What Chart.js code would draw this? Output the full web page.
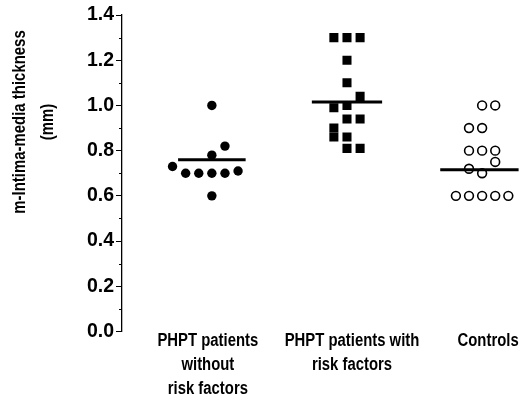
<!DOCTYPE html>
<html>
<head>
<meta charset="utf-8">
<script src="https://cdn.jsdelivr.net/npm/chart.js@4.4.1/dist/chart.umd.min.js"></script>
<style>
  html, body { margin: 0; padding: 0; background: #fff; }
  #wrap { width: 525px; height: 404px; }
</style>
</head>
<body>
<div id="wrap"><canvas id="imtChart"></canvas></div>
<script>
// groups on the x axis
const groupLabels = [
    ['PHPT patients', 'without', 'risk factors'],
    ['PHPT patients with', 'risk factors'],
    ['Controls']
];

// IMT (mm) per subject, and its column slot in the dot plot
const noRiskValues = [1.00, 0.82, 0.78, 0.73, 0.70, 0.70, 0.70, 0.70, 0.71, 0.60];
const noRiskSlots  = [0, 1, 0, -3, -2, -1, 0, 1, 2, 0];

const riskValues = [1.30, 1.30, 1.30, 1.20, 1.10, 1.04, 0.99, 1.00, 0.94, 0.94, 0.90, 0.86, 0.86, 0.81, 0.81];
const riskSlots  = [-1, 0, 1, 0, 0, 1, -1, 0, 0, 1, -1, -1, 0, 0, 1];

const controlValues = [1.00, 1.00, 0.90, 0.90, 0.80, 0.80, 0.80, 0.75, 0.72, 0.70, 0.60, 0.60, 0.60, 0.60, 0.60];
const controlSlots  = [0, 1, -1, 0, -1, 0, 1, 1, -1, 0, -2, -1, 0, 1, 2];

// mean bar of each group
const groupMeans = [0.76, 1.015, 0.715];

const yTicks = [0.0, 0.2, 0.4, 0.6, 0.8, 1.0, 1.2, 1.4];
const yMinorTicks = [0.1, 0.3, 0.5, 0.7, 0.9, 1.1, 1.3];

const slotStep = 0.097;
const meanHalf = [0.25, 0.26, 0.31];
const labelShift = [-4, 5, 6];   // px, label centre vs. group centre
const narrow = 0.85;             // the original uses a condensed face

function toPoints(group, values, slots) {
    return values.map(function(v, i) {
        return { x: group + slots[i] * slotStep, y: v };
    });
}

const meanLines = groupMeans.map(function(m, i) {
    return {
        type: 'line',
        data: [{ x: i + 1 - meanHalf[i], y: m }, { x: i + 1 + meanHalf[i], y: m }],
        borderColor: '#000',
        borderWidth: 3,
        pointRadius: 0,
        order: 0
    };
});

const minorTicks = {
    id: 'minorTicks',
    afterDraw(chart) {
        const y = chart.scales.y;
        const ctx = chart.ctx;
        ctx.save();
        ctx.strokeStyle = '#000';
        ctx.lineWidth = 1;
        yMinorTicks.forEach(function(v) {
            const py = Math.round(y.getPixelForValue(v)) + 0.5;
            ctx.beginPath();
            ctx.moveTo(y.right - 3, py);
            ctx.lineTo(y.right, py);
            ctx.stroke();
        });
        ctx.restore();
    }
};

// condensed group names under each group
const groupText = {
    id: 'groupText',
    afterDraw(chart) {
        const xs = chart.scales.x;
        const ctx = chart.ctx;
        ctx.save();
        ctx.fillStyle = '#000';
        ctx.font = 'bold 17.5px "Liberation Sans", Arial, sans-serif';
        ctx.textAlign = 'center';
        ctx.textBaseline = 'middle';
        groupLabels.forEach(function(lines, i) {
            const cx = xs.getPixelForValue(i + 1) + labelShift[i];
            lines.forEach(function(t, j) {
                ctx.save();
                ctx.translate(cx, xs.top + 10 + j * 24);
                ctx.scale(narrow, 1);
                ctx.fillText(t, 0, 0);
                ctx.restore();
            });
        });
        ctx.restore();
    }
};

// rotated y title, placed like the original (above the middle)
const yTitle = {
    id: 'yTitle',
    afterDraw(chart) {
        const ctx = chart.ctx;
        ctx.save();
        ctx.translate(20, 122);
        ctx.rotate(-Math.PI / 2);
        ctx.scale(0.83, 1);
        ctx.fillStyle = '#000';
        ctx.font = 'bold 18px "Liberation Sans", Arial, sans-serif';
        ctx.textAlign = 'center';
        ctx.textBaseline = 'middle';
        ctx.fillText('m-Intima-media thickness', 0, 0);
        ctx.fillText('(mm)', 0, 28);
        ctx.restore();
    }
};

Chart.defaults.font.family = '"Liberation Sans", Arial, sans-serif';
Chart.defaults.color = '#000';

const ctx = document.getElementById('imtChart').getContext('2d');

new Chart(ctx, {
    type: 'scatter',
    data: {
        datasets: meanLines.concat([
            {
                data: toPoints(1, noRiskValues, noRiskSlots),
                pointStyle: 'circle',
                pointRadius: 4.7,
                backgroundColor: '#000',
                borderWidth: 0,
                order: 1
            },
            {
                data: toPoints(2, riskValues, riskSlots),
                pointStyle: 'rect',
                pointRadius: 6.4,
                backgroundColor: '#000',
                borderWidth: 0,
                order: 1
            },
            {
                data: toPoints(3, controlValues, controlSlots),
                pointStyle: 'circle',
                pointRadius: 4.4,
                backgroundColor: '#fff',
                borderColor: '#000',
                borderWidth: 1.6,
                order: 1
            }
        ])
    },
    options: {
        responsive: true,
        maintainAspectRatio: false,
        animation: false,
        layout: {
            padding: { top: 15, right: 1, bottom: 0, left: 0 }
        },
        scales: {
            x: {
                type: 'linear',
                min: 0.335,
                max: 3.27,
                grid: { display: false, drawTicks: false },
                border: { display: false },
                afterBuildTicks: function(scale) {
                    scale.ticks = [1, 2, 3].map(function(v) { return { value: v }; });
                },
                afterFit: function(scale) {
                    scale.height = 72.5;
                },
                ticks: { display: false }
            },
            y: {
                min: 0,
                max: 1.4,
                grid: {
                    drawOnChartArea: false,
                    drawTicks: true,
                    tickLength: 6,
                    tickColor: '#000',
                    tickWidth: 1
                },
                border: { display: true, color: '#000', width: 1.3 },
                afterBuildTicks: function(scale) {
                    scale.ticks = yTicks.map(function(v) { return { value: v }; });
                },
                afterFit: function(scale) {
                    scale.width = 122;
                },
                ticks: {
                    padding: 2,
                    font: { size: 19.5, weight: 'bold' },
                    callback: function(value) {
                        return value.toFixed(1);
                    }
                }
            }
        },
        plugins: {
            legend: { display: false },
            tooltip: { enabled: false }
        }
    },
    plugins: [minorTicks, groupText, yTitle]
});
</script>
</body>
</html>
